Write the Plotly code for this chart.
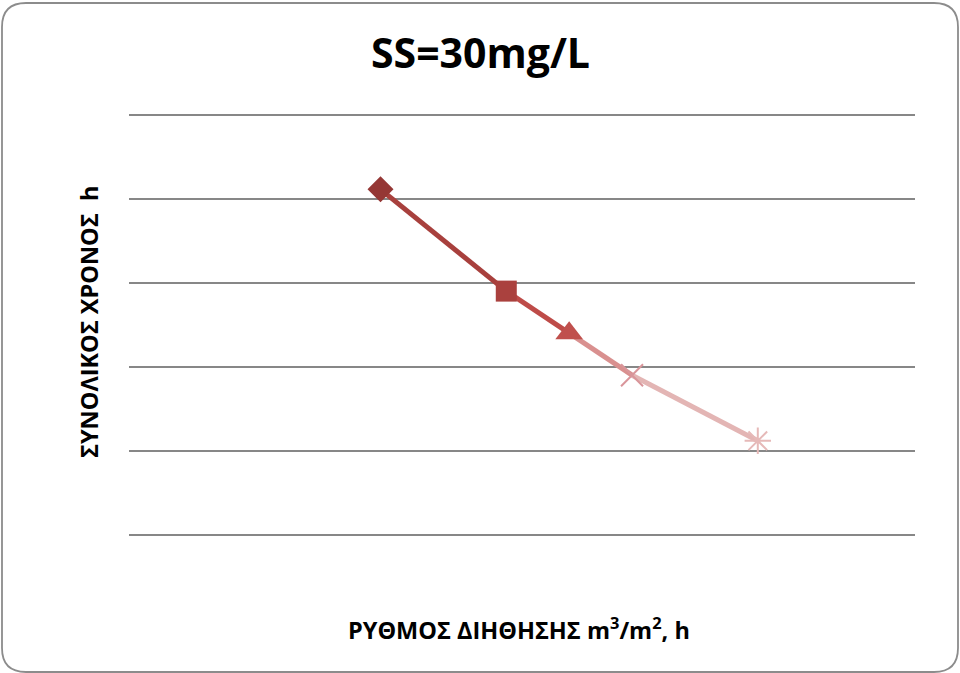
import plotly.graph_objects as go

# Data
rate = [8, 12, 14, 16, 20]          # ΡΥΘΜΟΣ ΔΙΗΘΗΣΗΣ
total_time = [4.11, 2.90, 2.40, 1.90, 1.12]  # ΣΥΝΟΛΙΚΟΣ ΧΡΟΝΟΣ
symbols = ["diamond", "square", "triangle-up", "x-thin", "asterisk"]
point_colors = ["#953735", "#AA413E", "#C0504D", "#D9959A", "#E6B9B8"]
seg_colors = ["#A8403D", "#BE4B48", "#D9908F", "#E3B5B4"]

W, H = 960, 673
L, R, T, B = 129, 45, 94, 118
PW, PH = W - L - R, H - T - B

fig = go.Figure()

# line segments
for i in range(len(rate) - 1):
    fig.add_trace(go.Scatter(
        x=rate[i:i + 2], y=total_time[i:i + 2], mode="lines",
        line=dict(color=seg_colors[i], width=5), showlegend=False,
        hoverinfo="skip"))

# markers
sizes = [20, 21, 24, 22, 22]
for i in range(len(rate)):
    sym = symbols[i]
    line_only = sym in ("x-thin", "asterisk")
    fig.add_trace(go.Scatter(
        x=[rate[i]], y=[total_time[i]], mode="markers", showlegend=False,
        marker=dict(symbol=sym, size=sizes[i], color=point_colors[i],
                    line=dict(color=point_colors[i], width=2 if line_only else 0))))

def px(x):
    return (x - L) / PW

def py(y):
    return (H - B - y) / PH

# rounded border
x0, y0, x1, y1, r = 2, 3, 958, 672, 24
path = (f"M {px(x0 + r)},{py(y0)} L {px(x1 - r)},{py(y0)} "
        f"Q {px(x1)},{py(y0)} {px(x1)},{py(y0 + r)} "
        f"L {px(x1)},{py(y1 - r)} Q {px(x1)},{py(y1)} {px(x1 - r)},{py(y1)} "
        f"L {px(x0 + r)},{py(y1)} Q {px(x0)},{py(y1)} {px(x0)},{py(y1 - r)} "
        f"L {px(x0)},{py(y0 + r)} Q {px(x0)},{py(y0)} {px(x0 + r)},{py(y0)} Z")
fig.add_shape(type="path", path=path, xref="paper", yref="paper",
              line=dict(color="#8C8C8C", width=1.8), layer="below")

font = "Open Sans, DejaVu Sans, sans-serif"
fig.add_annotation(text="<b>SS=30mg/L</b>", x=px(480), y=py(52), xref="paper", yref="paper",
                   showarrow=False, font=dict(family=font, size=41, color="#000000"),
                   xanchor="center", yanchor="middle")
fig.add_annotation(text="<b>ΣΥΝΟΛΙΚΟΣ ΧΡΟΝΟΣ  h</b>", x=px(89), y=py(322), xref="paper", yref="paper",
                   showarrow=False, textangle=-90, font=dict(family=font, size=23.5, color="#000000"),
                   xanchor="center", yanchor="middle")
fig.add_annotation(text="<b>ΡΥΘΜΟΣ ΔΙΗΘΗΣΗΣ m<sup>3</sup>/m<sup>2</sup>, h</b>", x=px(519), y=py(628),
                   xref="paper", yref="paper", showarrow=False,
                   font=dict(family=font, size=23.5, color="#000000"),
                   xanchor="center", yanchor="middle")

fig.update_layout(
    width=W, height=H, margin=dict(l=L, r=R, t=T, b=B),
    paper_bgcolor="white", plot_bgcolor="white", showlegend=False,
    xaxis=dict(range=[0, 25], showgrid=False, zeroline=False, showticklabels=False,
               ticks="", showline=False, fixedrange=True),
    yaxis=dict(range=[-20 / 84, 5 + 20.5 / 84], dtick=1, tick0=0, showgrid=True,
               gridcolor="#878787", gridwidth=1.8, zeroline=False,
               showticklabels=False, ticks="", showline=False, fixedrange=True),
)

fig.write_html("out.html")
